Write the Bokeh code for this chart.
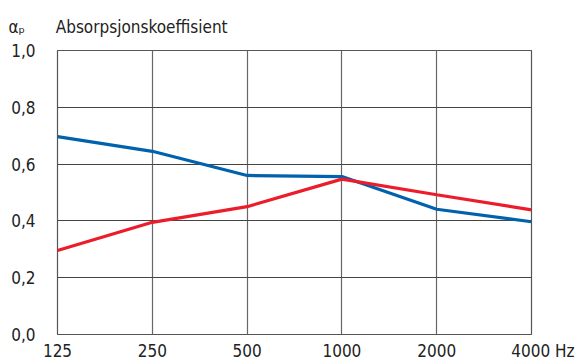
from bokeh.plotting import figure
from bokeh.models import Range1d, FixedTicker, CustomJSTickFormatter, Title
from bokeh.embed import file_html
from bokeh.resources import INLINE

freq_labels = ["125", "250", "500", "1000", "2000", "4000"]
blue_values = [0.697, 0.645, 0.56, 0.556, 0.441, 0.397]
red_values = [0.296, 0.395, 0.45, 0.547, 0.492, 0.439]
y_ticks = [0.0, 0.2, 0.4, 0.6, 0.8, 1.0]
title_text = "Absorpsjonskoeffisient"
symbol_text = "α\u209a"
unit_text = "Hz"

FONT = "DejaVu Sans Condensed"
xs = list(range(len(freq_labels)))

p = figure(frame_width=474, frame_height=284, output_backend="svg", toolbar_location=None,
           x_range=Range1d(0, len(freq_labels) - 1), y_range=Range1d(0, 1),
           min_border_left=57, min_border_right=49, min_border_top=50, min_border_bottom=28)
p.outline_line_color = "#555555"
p.outline_line_width = 1.2
p.background_fill_color = "white"
p.border_fill_color = "white"

p.title = Title(text=symbol_text + "\u2003\u2003" + title_text, align="left", offset=-49,
                standoff=27, text_font=FONT, text_font_size="17px",
                text_font_style="normal", text_color="#222222")

for ax in (p.xaxis[0], p.yaxis[0]):
    ax.axis_line_color = None
    ax.major_tick_line_color = None
    ax.minor_tick_line_color = None
    ax.major_tick_out = 0
    ax.major_tick_in = 0
    ax.minor_tick_out = 0
    ax.minor_tick_in = 0
    ax.major_label_text_font = FONT
    ax.major_label_text_font_size = "17px"
    ax.major_label_text_color = "#222222"

last = len(freq_labels) - 1
p.xaxis[0].ticker = FixedTicker(ticks=xs)
p.xaxis[0].formatter = CustomJSTickFormatter(
    args=dict(labels=freq_labels, unit=unit_text, last=last),
    code="var i = Math.round(tick); var s = labels[i];"
         " if (i == last) { s = '\\u2003\\u2002' + s + ' ' + unit; } return s;")
p.xaxis[0].major_label_standoff = 6
p.yaxis[0].ticker = FixedTicker(ticks=y_ticks)
p.yaxis[0].formatter = CustomJSTickFormatter(code="return tick.toFixed(1).replace('.', ',');")
p.yaxis[0].major_label_standoff = 22

p.xgrid.grid_line_color = "#666666"
p.xgrid.grid_line_width = 1.2
p.ygrid.grid_line_color = "#444444"
p.ygrid.grid_line_width = 1.2

p.line(xs, blue_values, line_color="#0062ad", line_width=3.2)
p.line(xs, red_values, line_color="#ec1c2a", line_width=3.2)

open("out.html", "w").write(file_html(p, INLINE))
